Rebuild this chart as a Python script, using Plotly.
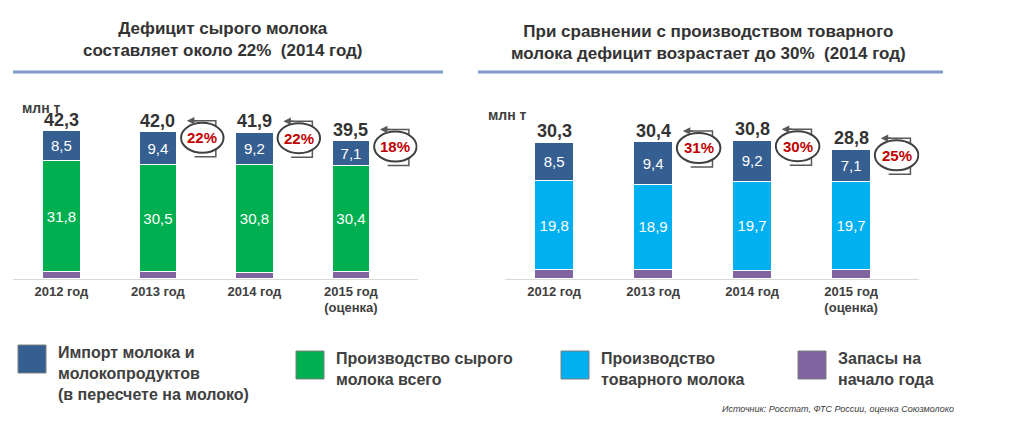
import plotly.graph_objects as go

years = ["2012 год", "2013 год", "2014 год", "2015 год<br>(оценка)"]
imports = [8.5, 9.4, 9.2, 7.1]
raw_milk = [31.8, 30.5, 30.8, 30.4]
market_milk = [19.8, 18.9, 19.7, 19.7]
stocks_left = [2.0, 2.1, 1.9, 2.0]
stocks_right = [2.0, 2.1, 1.9, 2.0]
totals_left = [42.3, 42.0, 41.9, 39.5]
totals_right = [30.3, 30.4, 30.8, 28.8]
deficit_left = ["", "22%", "22%", "18%"]
deficit_right = ["", "31%", "30%", "25%"]

C_IMP = "#355E91"
C_RAW = "#00B050"
C_MKT = "#00B0F0"
C_STK = "#8064A2"
FONT = "Liberation Sans"

fig = go.Figure()


def add_stack(xa, ya, stocks, base, base_color):
    for vals, col in [(stocks, C_STK), (base, base_color), (imports, C_IMP)]:
        show_txt = col != C_STK
        fig.add_bar(x=years, y=vals, xaxis=xa, yaxis=ya, marker_color=col,
                    marker_line=dict(color="white", width=1),
                    text=[f"{v:.1f}".replace(".", ",") for v in vals] if show_txt else None,
                    textposition="inside", insidetextanchor="middle",
                    textfont=dict(color="white", size=15, family=FONT),
                    showlegend=False, hoverinfo="skip")


add_stack("x", "y", stocks_left, raw_milk, C_RAW)
add_stack("x2", "y2", stocks_right, market_milk, C_MKT)

fig.update_layout(
    barmode="stack", bargap=0.61,
    width=1024, height=422, margin=dict(l=0, r=0, t=0, b=0),
    plot_bgcolor="white", paper_bgcolor="white",
    font=dict(family=FONT, color="#333333"),
    xaxis=dict(domain=[0.005, 0.40], showline=True, linecolor="#D9D9D9", linewidth=1,
               tickfont=dict(size=13, family=FONT, color="#404040"), ticks=""),
    yaxis=dict(domain=[0.358, 0.773], range=[0, 50], visible=False),
    xaxis2=dict(domain=[0.485, 0.89], anchor="y2", showline=True, linecolor="#D9D9D9",
                linewidth=1, tickfont=dict(size=13, family=FONT, color="#404040"), ticks=""),
    yaxis2=dict(domain=[0.358, 0.785], range=[0, 40], visible=False, anchor="x2"),
)
fig.update_xaxes(tickprefix="<b>", ticksuffix="</b>")


def add_badges(xa, ya, totals, pcts, ppu):
    for i, (t, p) in enumerate(zip(totals, pcts)):
        fig.add_annotation(x=i, y=t, xref=xa, yref=ya, text=f"<b>{t:.1f}</b>".replace(".", ","),
                           showarrow=False, yshift=11, font=dict(size=18, color="#333333"))
        if not p:
            continue
        top = t + 11 / ppu
        bot = t - 25 / ppu
        cy = t - 6 / ppu
        ry = 15 / ppu
        cx = i + 0.46
        fig.add_shape(type="path", xref=xa, yref=ya,
                      path=f"M {i+0.34},{top} L {i+0.6},{top} L {i+0.6},{bot} L {i+0.38},{bot}",
                      line=dict(color="#595959", width=1.5))
        fig.add_annotation(x=i + 0.3, y=top, ax=i + 0.42, ay=top, xref=xa, yref=ya,
                           axref=xa, ayref=ya, text="", showarrow=True, arrowhead=2,
                           arrowsize=1, arrowwidth=1.5, arrowcolor="#595959")
        fig.add_shape(type="circle", xref=xa, yref=ya, x0=cx - 0.22, x1=cx + 0.22,
                      y0=cy - ry, y1=cy + ry, fillcolor="white",
                      line=dict(color="#404040", width=2))
        fig.add_annotation(x=cx, y=cy, xref=xa, yref=ya, text=f"<b>{p}</b>", showarrow=False,
                           font=dict(size=15, color="#C00000"))


add_badges("x", "y", totals_left, deficit_left, 3.5)
add_badges("x2", "y2", totals_right, deficit_right, 4.5)

# titles and rules
fig.add_annotation(x=215 / 1024, y=1 - 31 / 422, xref="paper", yref="paper", showarrow=False,
                   xanchor="center", yanchor="middle",
                   text="<b>Дефицит сырого молока<br>составляет около 22%  (2014 год)</b>",
                   font=dict(size=17, color="#333333"))
fig.add_annotation(x=700 / 1024, y=1 - 34 / 422, xref="paper", yref="paper", showarrow=False,
                   xanchor="center", yanchor="middle",
                   text="<b>При сравнении с производством товарного<br>молока дефицит возрастает до 30%  (2014 год)</b>",
                   font=dict(size=17, color="#333333"))
for x0, x1 in [(5, 435), (470, 935)]:
    fig.add_shape(type="line", xref="paper", yref="paper", x0=x0 / 1024, x1=x1 / 1024,
                  y0=1 - 64 / 422, y1=1 - 64 / 422, line=dict(color="#7F9CC8", width=3))
fig.add_annotation(x=12 / 1024, y=1 - 90 / 422, xref="paper", yref="paper", showarrow=False,
                   xanchor="left", text="<b>млн т</b>", font=dict(size=14, color="#404040"))
fig.add_annotation(x=478 / 1024, y=1 - 97 / 422, xref="paper", yref="paper", showarrow=False,
                   xanchor="left", text="<b>млн т</b>", font=dict(size=14, color="#404040"))

# legend
legend = [
    (10, 337, C_IMP, "Импорт молока и<br>молокопродуктов<br>(в пересчете на молоко)"),
    (288, 343, C_RAW, "Производство сырого<br>молока всего"),
    (553, 343, C_MKT, "Производство<br>товарного молока"),
    (790, 343, C_STK, "Запасы на<br>начало года"),
]
for lx, ly, col, txt in legend:
    fig.add_shape(type="rect", xref="paper", yref="paper", x0=lx / 1024, x1=(lx + 28) / 1024,
                  y0=1 - (ly + 28) / 422, y1=1 - ly / 422, fillcolor=col,
                  line=dict(color="#7F7F7F", width=1))
    fig.add_annotation(x=(lx + 38) / 1024, y=1 - (ly - 3) / 422, xref="paper", yref="paper",
                       xanchor="left", yanchor="top", align="left", showarrow=False,
                       text=f"<b>{txt}</b>", font=dict(size=16, color="#404040"))
fig.add_annotation(x=948 / 1024, y=1 - 408 / 422, xref="paper", yref="paper", showarrow=False,
                   xanchor="right", text="<i>Источник: Росстат, ФТС России, оценка Союзмолоко</i>",
                   font=dict(size=9, color="#404040"))

fig.write_html("out.html")
